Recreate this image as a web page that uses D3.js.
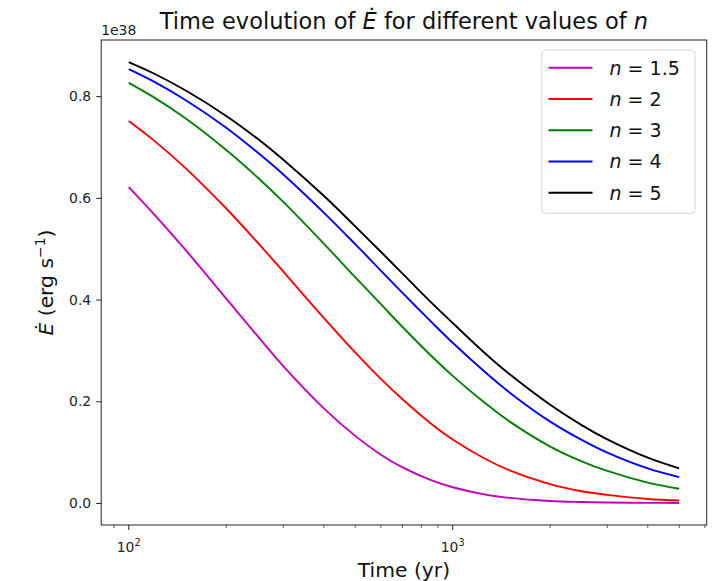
<!DOCTYPE html>
<html>
<head>
<meta charset="utf-8">
<script src="https://cdn.jsdelivr.net/npm/d3@7"></script>
<style>
  body { margin: 0; background: #fff; }
  svg { display: block; font-family: "DejaVu Sans", sans-serif; }
</style>
</head>
<body>
<svg id="chart" width="715" height="581"></svg>
<script>
// time in years
var times = [100, 120, 150, 200, 250, 300, 400, 500, 600, 700, 850, 1000, 1250, 1500, 2000, 2500, 3000, 4000, 5000];

// Edot in units of 1e38 erg/s
var edotN15 = [0.621, 0.567, 0.497, 0.402, 0.328, 0.269, 0.186, 0.132, 0.095, 0.070, 0.046, 0.031, 0.017, 0.010, 0.004, 0.002, 0.001, 0.0003, 0.0001];
var edotN2  = [0.751, 0.712, 0.658, 0.579, 0.512, 0.455, 0.364, 0.296, 0.244, 0.204, 0.158, 0.125, 0.088, 0.064, 0.037, 0.023, 0.016, 0.008, 0.005];
var edotN3  = [0.826, 0.797, 0.756, 0.694, 0.640, 0.592, 0.510, 0.444, 0.391, 0.346, 0.292, 0.250, 0.198, 0.160, 0.111, 0.082, 0.063, 0.040, 0.028];
var edotN4  = [0.853, 0.828, 0.792, 0.738, 0.689, 0.646, 0.571, 0.509, 0.457, 0.413, 0.359, 0.315, 0.259, 0.217, 0.160, 0.124, 0.099, 0.068, 0.051];
var edotN5  = [0.867, 0.844, 0.811, 0.761, 0.716, 0.675, 0.604, 0.544, 0.494, 0.451, 0.397, 0.354, 0.296, 0.253, 0.193, 0.153, 0.125, 0.089, 0.068];

var seriesLabels = ["1.5", "2", "3", "4", "5"];
var seriesColors = ["#bf00bf", "#ff0000", "#008000", "#0000ff", "#000000"];
var yTicks = [0.0, 0.2, 0.4, 0.6, 0.8];

var allSeries = [edotN15, edotN2, edotN3, edotN4, edotN5].map(function(vals, i) {
    return {
        label: seriesLabels[i],
        color: seriesColors[i],
        points: vals.map(function(v, j) { return {t: times[j], e: v}; })
    };
});

var width = 715, height = 581;
var margin = {top: 40, right: 8.3, bottom: 56, left: 101.2};

var svg = d3.select("#chart");

// matplotlib style 5% margins (log space for x)
var lx0 = Math.log10(d3.min(times)), lx1 = Math.log10(d3.max(times));
var padX = (lx1 - lx0) * 0.05;
var allVals = [].concat(edotN15, edotN2, edotN3, edotN4, edotN5);
var ymin = d3.min(allVals), ymax = d3.max(allVals);
var padY = (ymax - ymin) * 0.05;

var x = d3.scaleLog()
    .domain([Math.pow(10, lx0 - padX), Math.pow(10, lx1 + padX)])
    .range([margin.left, width - margin.right]);

var y = d3.scaleLinear()
    .domain([ymin - padY, ymax + padY])
    .range([height - margin.bottom, margin.top]);

var line = d3.line()
    .x(function(d) { return x(d.t); })
    .y(function(d) { return y(d.e); })
    .curve(d3.curveCatmullRom.alpha(0.5));

svg.append("g")
    .selectAll("path")
    .data(allSeries)
    .enter().append("path")
    .attr("fill", "none")
    .attr("stroke", function(d) { return d.color; })
    .attr("stroke-width", 1.9)
    .attr("d", function(d) { return line(d.points); });

// y axis
var yAxis = svg.append("g")
    .attr("transform", "translate(" + margin.left + ",0)")
    .call(d3.axisLeft(y).tickValues(yTicks).tickSize(5).tickPadding(5)
        .tickFormat(d3.format(".1f")));
yAxis.select(".domain").remove();
yAxis.selectAll("text").attr("font-size", 13.9).attr("fill", "#222").attr("font-family", "DejaVu Sans");
yAxis.selectAll("line").attr("stroke", "#222");

// x axis: major decades and minor ticks
var xMajor = [100, 1000];
var xMinor = x.ticks().filter(function(t) { return xMajor.indexOf(t) < 0; });
var xAxisG = svg.append("g")
    .attr("transform", "translate(0," + (height - margin.bottom) + ")");
xAxisG.selectAll("line.minor")
    .data(xMinor)
    .enter().append("line")
    .attr("x1", function(d) { return x(d); })
    .attr("x2", function(d) { return x(d); })
    .attr("y1", 0).attr("y2", 3)
    .attr("stroke", "#222").attr("stroke-width", 0.7);
xAxisG.selectAll("line.major")
    .data(xMajor)
    .enter().append("line")
    .attr("x1", function(d) { return x(d); })
    .attr("x2", function(d) { return x(d); })
    .attr("y1", 0).attr("y2", 5)
    .attr("stroke", "#222").attr("stroke-width", 1);
var xLab = xAxisG.selectAll("text")
    .data(xMajor)
    .enter().append("text")
    .attr("x", function(d) { return x(d); })
    .attr("y", 27)
    .attr("text-anchor", "middle")
    .attr("font-size", 13.9)
    .attr("fill", "#222");
xLab.append("tspan").text("10");
xLab.append("tspan")
    .attr("dy", -6)
    .attr("font-size", 9.7)
    .text(function(d) { return Math.round(Math.log10(d)); });

// frame
svg.append("rect")
    .attr("x", margin.left)
    .attr("y", margin.top)
    .attr("width", width - margin.left - margin.right)
    .attr("height", height - margin.top - margin.bottom)
    .attr("fill", "none")
    .attr("stroke", "#222")
    .attr("stroke-width", 1);

// offset text
svg.append("text")
    .attr("x", margin.left)
    .attr("y", 35)
    .attr("font-size", 13.9)
    .attr("fill", "#222")
    .text("1e38");

// title
var title = svg.append("text")
    .attr("x", (margin.left + width - margin.right) / 2)
    .attr("y", 29)
    .attr("text-anchor", "middle")
    .attr("font-size", 22.5)
    .attr("fill", "#111");
title.append("tspan").text("Time evolution of ");
title.append("tspan").attr("font-style", "italic").text("\u0116");
title.append("tspan").text(" for different values of ");
title.append("tspan").attr("font-style", "italic").text("n");

// x label
svg.append("text")
    .attr("x", (margin.left + width - margin.right) / 2)
    .attr("y", 577)
    .attr("text-anchor", "middle")
    .attr("font-size", 20.3)
    .attr("fill", "#111")
    .text("Time (yr)");

// y label
var yl = svg.append("text")
    .attr("transform", "translate(53," + ((margin.top + height - margin.bottom) / 2) + ") rotate(-90)")
    .attr("text-anchor", "middle")
    .attr("font-size", 20.3)
    .attr("fill", "#111");
yl.append("tspan").attr("font-style", "italic").text("\u0116");
yl.append("tspan").text(" (erg s");
yl.append("tspan").attr("dy", -8).attr("font-size", 14).text("\u22121");
yl.append("tspan").attr("dy", 8).text(")");

// legend
var legend = svg.append("g");
legend.append("rect")
    .attr("x", 541.7).attr("y", 50)
    .attr("width", 153.3).attr("height", 163.3)
    .attr("rx", 4)
    .attr("fill", "#fff").attr("fill-opacity", 0.8)
    .attr("stroke", "#d6d6d6").attr("stroke-width", 1);
var item = legend.selectAll("g.item")
    .data(allSeries)
    .enter().append("g")
    .attr("transform", function(d, i) { return "translate(0," + (67.7 + i * 31.25) + ")"; });
item.append("line")
    .attr("x1", 548.5).attr("x2", 592.5)
    .attr("y1", 0).attr("y2", 0)
    .attr("stroke", function(d) { return d.color; })
    .attr("stroke-width", 1.9);
var itemText = item.append("text")
    .attr("x", 609.5)
    .attr("y", 6.8)
    .attr("font-size", 19)
    .attr("fill", "#111");
itemText.append("tspan").attr("font-style", "italic").text("n");
itemText.append("tspan").text(function(d) { return " = " + d.label; });
</script>
</body>
</html>
